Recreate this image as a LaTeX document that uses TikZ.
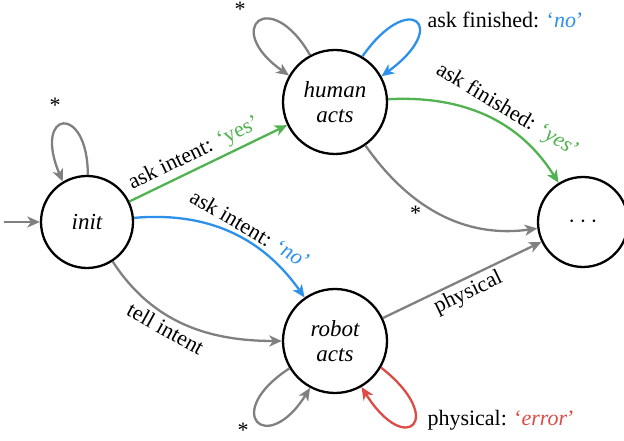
\documentclass[tikz,border=0pt]{standalone}
\usepackage{fontspec}
\setmainfont{Liberation Serif}
\usetikzlibrary{arrows.meta}
\definecolor{agreen}{RGB}{80,178,80}
\definecolor{ablue}{RGB}{45,145,235}
\definecolor{ared}{RGB}{220,75,70}
\definecolor{agray}{RGB}{128,128,128}
\begin{document}
\begin{tikzpicture}[x=1pt,y=1pt,
  state/.style={circle,draw=black,line width=2.3pt,font=\fontsize{23}{25}\selectfont\itshape,align=center,inner sep=0pt},
  trans/.style={line width=2.3pt,-{Stealth[length=12.5pt,width=11pt,inset=3.5pt]}},
  lbl/.style={font=\fontsize{22}{25}\selectfont,text=black},
]
\useasboundingbox (0,0) rectangle (624,441);
% states
\node[state,minimum size=92pt]  (init)  at (87,219)  {init};
\node[state,minimum size=104pt] (human) at (335,339) {human\\acts};
\node[state,minimum size=104pt] (robot) at (335,100) {robot\\acts};
\node[state,minimum size=90pt]  (dots)  at (583,219) {$\cdots$};
\coordinate (start) at (4,219);

% entry arrow
\draw[trans,agray] (start) -- (init);

% self loops
\draw[trans,agray] (init.89) .. controls +(90:72) and +(113:78) .. (init.121);
\node[lbl] (sinit) at (55,336) {*};

\draw[trans,agray] (human.118) .. controls +(120:80) and +(145:82) .. (human.150);
\node[lbl] (shuman) at (240,432) {*};
\draw[trans,ablue] (human.59) .. controls +(55:82) and +(36:86) .. (human.29);
\node[lbl,anchor=west] (lno) at (424,421) {ask finished: \textcolor{ablue}{‘\textit{no}’}};

\draw[trans,agray] (robot.211) .. controls +(213:82) and +(238:82) .. (robot.242);
\node[lbl] (srobot) at (243,11) {*};
\draw[trans,ared] (robot.330) .. controls +(322:84) and +(302:84) .. (robot.300);
\node[lbl,anchor=west] (lerr) at (424,21) {physical: \textcolor{ared}{‘\textit{error}’}};

% transitions between states
\draw[trans,agreen] (init) -- node[lbl,sloped,above,pos=0.45] {ask intent: \textcolor{agreen}{‘yes’}} (human);
\draw[trans,ablue] (init) to[out=5,in=125]
  node[lbl,sloped,above,pos=0.58] {ask intent: \textcolor{ablue}{‘\textit{no}’}} (robot);
\draw[trans,agray] (init) to[out=-57,in=180]
  node[lbl,sloped,below,pos=0.42] {tell intent} (robot);
\draw[trans,agreen] (human) to[out=3,in=122]
  node[lbl,sloped,above,pos=0.58] {ask finished: \textcolor{agreen}{‘\textit{yes}’}} (dots);
\draw[trans,agray] (human) to[out=-55,in=188]
  node[lbl,below left,pos=0.4,inner sep=1pt] {*} (dots);
\draw[trans,agray] (robot) -- node[lbl,sloped,below,pos=0.5] {physical} (dots);
\end{tikzpicture}
\end{document}
